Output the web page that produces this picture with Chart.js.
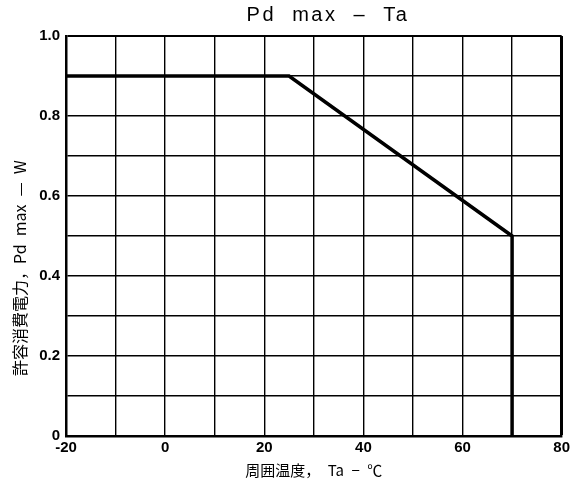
<!DOCTYPE html>
<html>
<head>
<meta charset="utf-8">
<script src="https://cdn.jsdelivr.net/npm/chart.js@4/dist/chart.umd.min.js"></script>
<style>
  html, body { margin: 0; padding: 0; background: #fff; }
  #wrap { width: 573px; height: 486px; }
</style>
</head>
<body>
<div id="wrap"><canvas id="grafico"></canvas></div>
<script>
// Valores
const tempC = [-20, 25, 70, 70];
const pdMax = [0.9, 0.9, 0.5, 0];
const xTicks = [-20, 0, 20, 40, 60, 80];
const yTicks = [0, 0.2, 0.4, 0.6, 0.8, 1.0];

const tituloTexto = "Pd  max  \u2013  Ta";
const tituloX = "周囲温度，\u2002Ta\u2002\u2212\u2002\u2103";
const tituloY = "許容消費電力，Pd\u2002max\u2002\u2014\u2002W\u3000\u3000\u3000\u3000";

// Titulo desenhado acima da area do grafico
const tituloPlugin = {
    id: "tituloTopo",
    afterDraw(chart) {
        const c = chart.ctx;
        c.save();
        c.fillStyle = "#000";
        c.font = "20px 'Liberation Sans', sans-serif";
        c.textAlign = "center";
        c.textBaseline = "middle";
        if ("letterSpacing" in c) c.letterSpacing = "2.5px";
        c.fillText(tituloTexto, 328, 15);
        c.restore();
    }
};

document.addEventListener("DOMContentLoaded", function () {

    const ctx = document.getElementById("grafico");

    new Chart(ctx, {
        type: "line",
        data: {
            datasets: [{
                label: "Pd max",
                data: tempC.map((t, i) => ({ x: t, y: pdMax[i] })),
                borderColor: "#000",
                borderWidth: 3.5,
                pointRadius: 0,
                tension: 0,
                fill: false
            }]
        },
        options: {
            responsive: true,
            maintainAspectRatio: false,
            animation: false,
            layout: { padding: { top: 36, right: 11, left: 0, bottom: 0 } },
            plugins: {
                legend: { display: false },
                tooltip: { enabled: false }
            },
            scales: {
                x: {
                    type: "linear",
                    min: -20,
                    max: 80,
                    afterFit(scale) { scale.height = 50; },
                    ticks: {
                        stepSize: 10,
                        autoSkip: false,
                        maxRotation: 0,
                        padding: 3,
                        color: "#000",
                        font: { family: "'Liberation Sans Narrow', 'Liberation Sans', sans-serif", size: 15, weight: "bold" },
                        callback: v => xTicks.includes(v) ? String(v) : ""
                    },
                    grid: {
                        color: "#000",
                        lineWidth: c => (c.index === 10 ? 3 : 1.4),
                        drawTicks: false
                    },
                    border: { display: true, color: "#000", width: 2.5 },
                    title: {
                        display: true,
                        text: tituloX,
                        color: "#000",
                        font: { family: "'Noto Sans CJK JP', sans-serif", size: 15 },
                        padding: { top: 7, bottom: 7 }
                    }
                },
                y: {
                    min: 0,
                    max: 1,
                    afterFit(scale) { scale.width = 66; },
                    ticks: {
                        stepSize: 0.1,
                        autoSkip: false,
                        padding: 6,
                        color: "#000",
                        font: { family: "'Liberation Sans Narrow', 'Liberation Sans', sans-serif", size: 15, weight: "bold" },
                        callback: v => {
                            const r = Math.round(v * 10) / 10;
                            if (!yTicks.includes(r)) return "";
                            return r === 0 ? "0" : r.toFixed(1);
                        }
                    },
                    grid: {
                        color: "#000",
                        lineWidth: c => (c.index === 10 ? 2 : 1.4),
                        drawTicks: false
                    },
                    border: { display: true, color: "#000", width: 2.5 },
                    title: {
                        display: true,
                        text: tituloY,
                        color: "#000",
                        font: { family: "'Noto Sans CJK JP', sans-serif", size: 16 },
                        padding: { top: 10, bottom: 10 }
                    }
                }
            }
        },
        plugins: [tituloPlugin]
    });

});
</script>
</body>
</html>
